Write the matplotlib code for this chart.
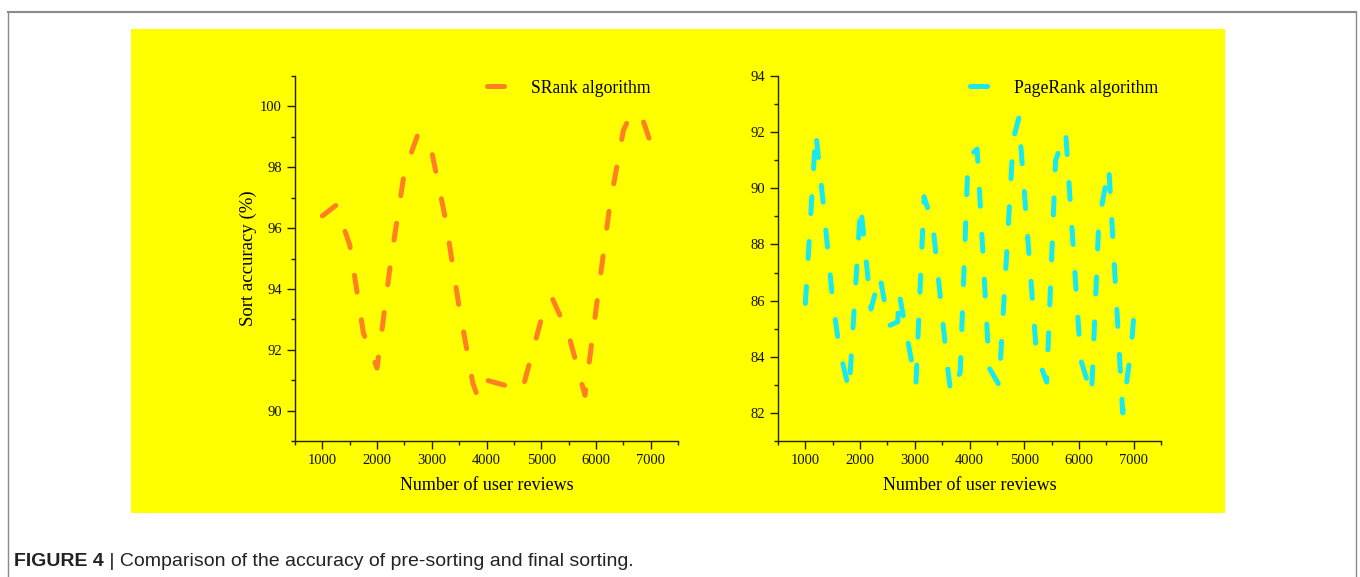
import matplotlib
matplotlib.use('Agg')
import numpy as np
import matplotlib.pyplot as plt
from matplotlib.patches import Rectangle
from matplotlib.lines import Line2D
from matplotlib.ticker import MultipleLocator

# SRank algorithm (left panel)
srank_x = [1000, 1250, 1500, 1750, 2000, 2250, 2500, 2750, 3000, 3250, 3500, 3750, 3850,
           4000, 4300, 4650, 5000, 5200, 5500, 5800, 6000, 6250, 6500, 6650, 6850, 7000]
srank_y = [96.4, 96.75, 95.45, 92.55, 91.4, 94.9, 97.85, 99.1, 98.5, 96.3, 93.4, 90.9, 90.4,
           91.0, 90.85, 90.65, 93.0, 93.7, 92.5, 90.5, 93.3, 96.7, 99.2, 99.8, 99.6, 98.8]

# PageRank algorithm (right panel)
pr_x = [1000, 1190, 1330, 1500, 1620, 1800, 2010, 2200, 2360, 2525, 2690, 2710, 3020, 3170,
        3330, 3600, 3660, 3830, 3975, 4140, 4360, 4540, 4800, 4900, 5224, 5410, 5573, 5757,
        6032, 6230, 6363, 6546, 6800, 6960, 7000]
pr_y = [85.9, 92.0, 89.4, 86.0, 84.3, 82.8, 89.4, 85.7, 86.9, 85.1, 85.25, 86.3, 83.0, 89.7,
        88.7, 83.6, 82.7, 83.45, 91.1, 91.4, 83.6, 83.0, 91.75, 92.5, 84.1, 83.1, 91.0, 92.0,
        83.9, 82.65, 88.8, 90.75, 82.0, 84.4, 85.4]

xlabel = 'Number of user reviews'
ylabel = 'Sort accuracy (%)'
caption_bold = 'FIGURE 4'
caption_rest = ' | Comparison of the accuracy of pre-sorting and final sorting.'

W, H = 1360, 577


def fx(px):
    return px / W


def fy(py):
    return 1 - py / H


def style_axis(ax, ylim):
    ax.set_facecolor('none')
    ax.spines['top'].set_visible(False)
    ax.spines['right'].set_visible(False)
    for s in ['left', 'bottom']:
        ax.spines[s].set_color('#222200')
        ax.spines[s].set_linewidth(1.0)
    ax.set_xlim(500, 7500)
    ax.set_ylim(*ylim)
    ax.xaxis.set_major_locator(MultipleLocator(1000))
    ax.xaxis.set_minor_locator(MultipleLocator(500))
    ax.yaxis.set_major_locator(MultipleLocator(2))
    ax.yaxis.set_minor_locator(MultipleLocator(1))
    ax.tick_params(which='major', direction='out', length=5.5, width=1, color='#222200',
                   labelsize=10.5, labelcolor='#111111')
    ax.tick_params(which='minor', direction='out', length=3, width=1, color='#222200')
    ax.tick_params(axis='x', which='major', pad=4)
    ax.tick_params(axis='y', which='major', pad=4)


plt.rcParams['font.family'] = ['Liberation Serif', 'DejaVu Serif']
fig = plt.figure(figsize=(13.6, 5.77), dpi=100)

# frame and yellow panel
grey = '#8a8a8a'
fig.add_artist(Line2D([fx(8), fx(1356)], [fy(12), fy(12)], color=grey, lw=1.5))
fig.add_artist(Line2D([fx(8), fx(8)], [fy(12), 0], color=grey, lw=1.0))
fig.add_artist(Line2D([fx(1356), fx(1356)], [fy(12), 0], color=grey, lw=1.0))
fig.add_artist(Rectangle((fx(131), fy(513)), fx(1225) - fx(131), fy(29) - fy(513),
                         transform=fig.transFigure, facecolor='#ffff00', edgecolor='none', zorder=0))

ax1 = fig.add_axes([fx(295), fy(441), fx(678) - fx(295), fy(76) - fy(441)])
ax2 = fig.add_axes([fx(778), fy(441), fx(1161) - fx(778), fy(76) - fy(441)])

style_axis(ax1, (89, 101))
style_axis(ax2, (81, 94))

ax1.plot(srank_x, srank_y, color='#ff8022', lw=3.6, dashes=(3.4, 5.6),
         dash_capstyle='round', label='SRank algorithm')
ax2.plot(pr_x, pr_y, color='#18e8f2', lw=3.6, dashes=(3.4, 5.6),
         dash_capstyle='round', label='PageRank algorithm')

for ax in [ax1, ax2]:
    ax.legend(loc='center left', bbox_to_anchor=(0.5, 0.967), frameon=False, fontsize=12.7,
              handlelength=1.1, handletextpad=1.4, borderpad=0, borderaxespad=0)
    ax.set_xlabel(xlabel, fontsize=13, labelpad=7)

ax1.set_ylabel(ylabel, fontsize=13.5, labelpad=2)

t = fig.text(fx(14), fy(566), caption_bold, family='Liberation Sans', weight='bold',
             fontsize=14, va='baseline', color='#222222')
fig.canvas.draw()
bb = t.get_window_extent()
fig.text(bb.x1 / W, fy(566), caption_rest, family='Liberation Sans', fontsize=14,
         va='baseline', color='#222222')

fig.savefig('out.png', dpi=100)
